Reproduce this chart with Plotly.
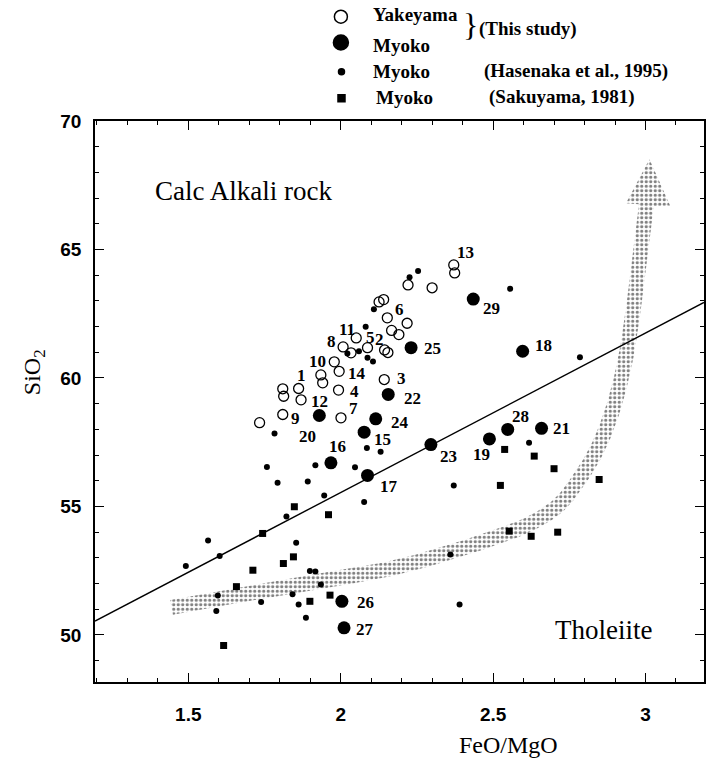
import numpy as np
import plotly.graph_objects as go

# ---------------- data ----------------
# Yakeyama (this study) - open circles
yake_x = [1.734, 1.810, 1.813, 1.862, 1.870, 1.810, 1.935, 1.941, 1.979, 1.995,
          1.993, 2.001, 2.008, 2.034, 2.051, 2.088, 2.144, 2.155, 2.143, 2.167,
          2.191, 2.153, 2.218, 2.126, 2.141, 2.221, 2.300, 2.371, 2.374]
yake_y = [58.26, 59.58, 59.29, 59.59, 59.15, 58.58, 60.12, 59.81, 60.63, 60.26,
          59.53, 58.45, 61.21, 60.98, 61.56, 61.18, 61.09, 60.99, 59.94, 61.85,
          61.69, 62.34, 62.13, 62.96, 63.05, 63.62, 63.51, 64.40, 64.09]

# Myoko (this study) - large filled circles, samples 15-29
myoko_id = [15, 16, 17, 18, 19, 20, 21, 22, 23, 24, 25, 26, 27, 28, 29]
myoko_x = [2.077, 1.968, 2.088, 2.597, 2.488, 1.930, 2.659, 2.156, 2.296, 2.115,
           2.231, 2.004, 2.011, 2.548, 2.435]
myoko_y = [57.89, 56.70, 56.21, 61.04, 57.63, 58.54, 58.04, 59.36, 57.41, 58.41,
           61.18, 51.31, 50.28, 58.00, 63.07]

# Myoko (Hasenaka et al., 1995) - small dots
hase_x = [2.082, 2.109, 2.226, 2.254, 2.022, 2.060, 2.088, 2.106, 2.556, 2.785,
          2.618, 2.371, 2.360, 2.390, 1.783, 1.758, 1.917, 2.047, 2.086, 2.131,
          1.793, 1.892, 1.946, 2.077, 1.822, 1.565, 1.603, 1.492, 1.854, 1.597,
          1.592, 1.886, 1.935, 1.842, 1.862, 1.899, 1.917, 1.739]
hase_y = [61.99, 62.67, 63.92, 64.16, 60.95, 61.04, 60.79, 60.64, 63.47, 60.81,
          57.48, 55.82, 53.13, 51.19, 57.84, 56.54, 56.60, 56.53, 57.28, 57.13,
          55.92, 55.97, 55.43, 55.17, 54.61, 53.68, 53.07, 52.68, 53.59, 51.54,
          50.93, 50.67, 51.96, 51.58, 51.19, 52.49, 52.47, 51.28]

# Myoko (Sakuyama, 1981) - squares
saku_x = [2.538, 2.635, 2.700, 2.524, 2.848, 2.712, 2.625, 2.553, 1.848, 1.960,
          1.744, 1.845, 1.812, 1.712, 1.658, 1.899, 1.965, 1.616]
saku_y = [57.22, 56.96, 56.47, 55.82, 56.05, 54.00, 53.84, 54.04, 54.99, 54.68,
          53.95, 53.04, 52.78, 52.52, 51.88, 51.31, 51.55, 49.59]

# sample number labels
lab_text = ["1", "5", "2", "3", "4", "6", "7", "8", "9", "10", "11", "12", "13", "14",
            "15", "16", "17", "18", "19", "20", "21", "22", "23", "24", "25", "26",
            "27", "28", "29"]
lab_x = [1.873, 2.099, 2.128, 2.200, 2.044, 2.193, 2.042, 1.971, 1.851, 1.924, 2.020,
         1.930, 2.409, 2.055, 2.137, 1.990, 2.158, 2.665, 2.461, 1.892, 2.725, 2.234,
         2.355, 2.193, 2.301, 2.080, 2.080, 2.589, 2.496]
lab_y = [60.10, 61.56, 61.48, 59.98, 59.49, 62.67, 58.81, 61.43, 58.41, 60.65, 61.89,
         59.10, 64.87, 60.16, 57.61, 57.32, 55.79, 61.26, 57.02, 57.74, 58.04, 59.21,
         56.94, 58.28, 61.15, 51.25, 50.21, 58.49, 62.69]

# boundary line Calc-alkali / Tholeiite
line_x = [1.194, 3.192]
line_y = [50.54, 62.94]

# tholeiitic trend band (centre line) and arrow head
band_x = [1.445, 1.6685, 1.887, 2.159, 2.372, 2.529, 2.627, 2.716, 2.781, 2.837,
          2.879, 2.912, 2.944, 2.977, 3.003]
band_y = [51.07, 51.555, 52.01, 52.57, 53.27, 53.89, 54.36, 55.06, 56.03, 57.12,
          58.29, 59.57, 61.36, 64.20, 66.73]
arrow_x = [2.936, 3.013, 3.081]
arrow_y = [66.80, 68.51, 66.70]

# axes
X_RANGE = [1.194, 3.192]
Y_RANGE = [48.17, 70.0]

# ---------------- layout geometry ----------------
W, H = 706, 764
ML, MR, MT, MB = 95, 0, 121, 82
L, R, T, B = ML, W - MR, MT, H - MB
sx = (R - L) / (X_RANGE[1] - X_RANGE[0])
sy = (B - T) / (Y_RANGE[1] - Y_RANGE[0])


def catmull(P, n=14):
    P = np.vstack([P[0], P, P[-1]])
    out = []
    for i in range(1, len(P) - 2):
        p0, p1, p2, p3 = P[i - 1], P[i], P[i + 1], P[i + 2]
        for t in np.linspace(0, 1, n, endpoint=False):
            t2, t3 = t * t, t * t * t
            out.append(0.5 * (2 * p1 + (-p0 + p2) * t + (2 * p0 - 5 * p1 + 4 * p2 - p3) * t2
                              + (-p0 + 3 * p1 - 3 * p2 + p3) * t3))
    out.append(P[-2])
    return np.array(out)


# build band polygon in pixel space, convert back to data
cp = np.column_stack([(np.array(band_x) - X_RANGE[0]) * sx,
                      (np.array(band_y) - Y_RANGE[0]) * sy])
C = catmull(cp)
d = np.gradient(C, axis=0)
d /= np.linalg.norm(d, axis=1)[:, None]
nrm = np.column_stack([-d[:, 1], d[:, 0]])
hw = 7.5
left = C + hw * nrm
right = C - hw * nrm
ax_px = np.column_stack([(np.array(arrow_x) - X_RANGE[0]) * sx,
                         (np.array(arrow_y) - Y_RANGE[0]) * sy])
poly = np.vstack([left, ax_px, right[::-1], left[:1]])
poly_x = poly[:, 0] / sx + X_RANGE[0]
poly_y = poly[:, 1] / sy + Y_RANGE[0]

fig = go.Figure()

fig.add_trace(go.Scatter(
    x=poly_x, y=poly_y, mode="lines", fill="toself",
    line=dict(width=0, color="rgba(0,0,0,0)"),
    fillcolor="white",
    fillpattern=dict(shape=".", fgcolor="black", bgcolor="white", size=4.5, solidity=0.4),
    hoverinfo="skip", showlegend=False))

fig.add_trace(go.Scatter(x=line_x, y=line_y, mode="lines",
                         line=dict(color="black", width=1.4), showlegend=False))

fig.add_trace(go.Scatter(x=saku_x, y=saku_y, mode="markers",
                         marker=dict(symbol="square", size=7, color="black"),
                         showlegend=False))
fig.add_trace(go.Scatter(x=hase_x, y=hase_y, mode="markers",
                         marker=dict(symbol="circle", size=6, color="black"),
                         showlegend=False))
fig.add_trace(go.Scatter(x=yake_x, y=yake_y, mode="markers",
                         marker=dict(symbol="circle-open", size=10, color="black",
                                     line=dict(width=1.3, color="black")),
                         showlegend=False))
fig.add_trace(go.Scatter(x=myoko_x, y=myoko_y, mode="markers",
                         marker=dict(symbol="circle", size=13, color="black"),
                         showlegend=False))

serif = "Liberation Serif"
ann = []
for t, x, y in zip(lab_text, lab_x, lab_y):
    ann.append(dict(x=x, y=y, xref="x", yref="y", text=t, showarrow=False,
                    xanchor="center", yanchor="middle",
                    font=dict(family=serif, size=17, color="black", weight="bold")))

ann.append(dict(x=1.681, y=67.27, xref="x", yref="y", text="Calc Alkali rock",
                xanchor="center", yanchor="middle",
                showarrow=False, font=dict(family=serif, size=27, color="black")))
ann.append(dict(x=2.863, y=50.21, xref="x", yref="y", text="Tholeiite",
                xanchor="center", yanchor="middle",
                showarrow=False, font=dict(family=serif, size=27, color="black")))


def px2paper(px, py):
    return (px - L) / (R - L), (B - py) / (B - T)


# axis titles
xx, yy = px2paper(34, 372)
ann.append(dict(x=xx, y=yy, xref="paper", yref="paper", text="SiO<sub>2</sub>",
                textangle=-90, showarrow=False, xanchor="center", yanchor="middle",
                font=dict(family=serif, size=24, color="black")))
xx, yy = px2paper(510, 745)
ann.append(dict(x=xx, y=yy, xref="paper", yref="paper", text="FeO/MgO",
                showarrow=False, xanchor="center", yanchor="middle",
                font=dict(family=serif, size=24, color="black")))

# custom legend
leg_font = dict(family=serif, size=19, color="black", weight="bold")
for txt, px, py in [("Yakeyama", 371.7, 15), ("Myoko", 371.7, 46),
                    ("Myoko", 371.7, 71), ("Myoko", 375, 97),
                    ("(This study)", 478, 29), ("(Hasenaka et al., 1995)", 483, 71),
                    ("(Sakuyama, 1981)", 488, 97)]:
    xx, yy = px2paper(px, py)
    ann.append(dict(x=xx, y=yy, xref="paper", yref="paper", text=txt, showarrow=False,
                    xanchor="left", yanchor="middle", font=leg_font))
xx, yy = px2paper(472, 25)
ann.append(dict(x=xx, y=yy, xref="paper", yref="paper", text="}", showarrow=False,
                xanchor="center", yanchor="middle",
                font=dict(family=serif, size=32, color="black")))

shapes = []
for kind, px, py, r, filled in [("circle", 341.7, 16.7, 6.5, False),
                                ("circle", 341.7, 42.5, 7.5, True),
                                ("circle", 342.3, 71.7, 3.0, True),
                                ("rect", 342.3, 98.3, 3.5, True)]:
    xx, yy = px2paper(px, py)
    shapes.append(dict(type=kind, xref="paper", yref="paper",
                       xsizemode="pixel", ysizemode="pixel",
                       xanchor=xx, yanchor=yy, x0=-r, x1=r, y0=-r, y1=r,
                       line=dict(color="black", width=1.5),
                       fillcolor="black" if filled else "rgba(0,0,0,0)"))

tickfont = dict(family="Liberation Sans", size=19, color="black", weight="bold")
fig.update_layout(
    width=W, height=H,
    margin=dict(l=ML, r=MR, t=MT, b=MB),
    paper_bgcolor="white", plot_bgcolor="white",
    showlegend=False,
    annotations=ann, shapes=shapes,
    xaxis=dict(range=X_RANGE, showgrid=False, zeroline=False,
               showline=True, linecolor="black", linewidth=1.5, mirror="ticks",
               ticks="inside", ticklen=9, tickwidth=1.3, tickcolor="black",
               tick0=0, dtick=0.5, tickfont=tickfont, ticklabelstandoff=14,
               minor=dict(dtick=0.1, ticks="inside", ticklen=4, tickwidth=1,
                          tickcolor="black", showgrid=False)),
    yaxis=dict(range=Y_RANGE, showgrid=False, zeroline=False,
               showline=True, linecolor="black", linewidth=1.5, mirror="ticks",
               ticks="inside", ticklen=9, tickwidth=1.3, tickcolor="black",
               tick0=0, dtick=5, tickfont=tickfont, ticklabelstandoff=8,
               minor=dict(dtick=1, ticks="inside", ticklen=4, tickwidth=1,
                          tickcolor="black", showgrid=False)),
)

fig.write_html("out.html")
